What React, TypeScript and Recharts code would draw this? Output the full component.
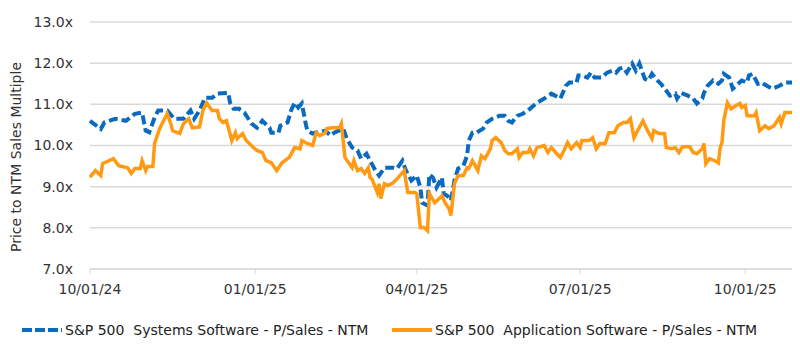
import React from 'react';
import { LineChart, Line, XAxis, YAxis, CartesianGrid } from 'recharts';

const systemsDates = [
  '2024-10-01', '2024-10-07', '2024-10-09', '2024-10-15', '2024-10-21', '2024-10-26', '2024-10-30', '2024-11-01',
  '2024-11-03', '2024-11-06', '2024-11-08', '2024-11-13', '2024-11-17', '2024-11-22', '2024-11-26', '2024-11-28',
  '2024-12-01', '2024-12-04', '2024-12-08', '2024-12-11', '2024-12-17', '2024-12-18', '2024-12-20', '2024-12-23',
  '2024-12-26', '2024-12-30', '2025-01-02', '2025-01-05', '2025-01-09', '2025-01-10', '2025-01-14', '2025-01-15',
  '2025-01-19', '2025-01-21', '2025-01-23', '2025-01-25', '2025-01-27', '2025-01-29', '2025-01-30', '2025-02-02',
  '2025-02-06', '2025-02-09', '2025-02-12', '2025-02-14', '2025-02-19', '2025-02-21', '2025-02-24', '2025-02-27',
  '2025-03-01', '2025-03-04', '2025-03-06', '2025-03-09', '2025-03-11', '2025-03-14', '2025-03-19', '2025-03-21',
  '2025-03-24', '2025-03-26', '2025-03-29', '2025-04-01', '2025-04-03', '2025-04-04', '2025-04-07', '2025-04-08',
  '2025-04-10', '2025-04-12', '2025-04-15', '2025-04-16', '2025-04-18', '2025-04-20', '2025-04-22', '2025-04-24',
  '2025-04-27', '2025-04-29', '2025-04-30', '2025-05-02', '2025-05-04', '2025-05-08', '2025-05-10', '2025-05-13',
  '2025-05-17', '2025-05-20', '2025-05-22', '2025-05-24', '2025-05-27', '2025-05-30', '2025-06-03', '2025-06-07',
  '2025-06-11', '2025-06-15', '2025-06-20', '2025-06-23', '2025-06-25', '2025-06-29', '2025-06-30', '2025-07-02',
  '2025-07-05', '2025-07-07', '2025-07-09', '2025-07-13', '2025-07-16', '2025-07-19', '2025-07-21', '2025-07-23',
  '2025-07-25', '2025-07-27', '2025-07-30', '2025-08-01', '2025-08-03', '2025-08-06', '2025-08-08', '2025-08-10',
  '2025-08-13', '2025-08-15', '2025-08-18', '2025-08-20', '2025-08-23', '2025-08-24', '2025-08-26', '2025-08-30',
  '2025-09-02', '2025-09-04', '2025-09-07', '2025-09-08', '2025-09-10', '2025-09-13', '2025-09-16', '2025-09-18',
  '2025-09-19', '2025-09-22', '2025-09-24', '2025-09-27', '2025-09-29', '2025-10-02', '2025-10-03', '2025-10-05',
  '2025-10-08', '2025-10-10', '2025-10-13', '2025-10-16', '2025-10-20', '2025-10-23', '2025-10-27',
];
const systemsValues = [
  10.6, 10.4, 10.56, 10.65, 10.6, 10.77, 10.8, 10.36,
  10.32, 10.68, 10.85, 10.85, 10.65, 10.65, 10.85, 10.65,
  10.85, 11.16, 11.16, 11.26, 11.28, 11.04, 10.89, 10.89,
  10.8, 10.53, 10.43, 10.6, 10.43, 10.31, 10.31, 10.48,
  10.56, 10.85, 11.04, 10.92, 11.02, 10.56, 10.36, 10.29,
  10.33, 10.36, 10.24, 10.31, 10.41, 10.17, 9.95, 9.88,
  9.68, 9.8, 9.63, 9.39, 9.27, 9.46, 9.46, 9.44,
  9.63, 9.39, 9.15, 9.27, 8.98, 8.61, 8.54, 9.3,
  9.22, 8.98, 9.22, 8.83, 8.78, 8.66, 9.15, 9.44,
  9.51, 9.75, 10.12, 10.31, 10.31, 10.41, 10.56, 10.65,
  10.72, 10.72, 10.6, 10.56, 10.72, 10.77, 10.89, 11.04,
  11.14, 11.26, 11.14, 11.45, 11.53, 11.53, 11.7, 11.7,
  11.65, 11.77, 11.65, 11.65, 11.77, 11.82, 11.77, 11.87,
  11.89, 11.77, 11.99, 11.82, 11.99, 11.62, 11.58, 11.74,
  11.58, 11.5, 11.33, 11.21, 11.26, 11.14, 11.28, 11.21,
  11.14, 11.02, 11.14, 11.28, 11.45, 11.58, 11.5, 11.58,
  11.74, 11.65, 11.38, 11.5, 11.58, 11.53, 11.7, 11.74,
  11.5, 11.53, 11.45, 11.38, 11.45, 11.53, 11.53,
];

const appDates = [
  '2024-10-01', '2024-10-04', '2024-10-07', '2024-10-08', '2024-10-14', '2024-10-17', '2024-10-22', '2024-10-24',
  '2024-10-26', '2024-10-29', '2024-10-30', '2024-11-01', '2024-11-02', '2024-11-05', '2024-11-06', '2024-11-09',
  '2024-11-13', '2024-11-15', '2024-11-16', '2024-11-20', '2024-11-22', '2024-11-25', '2024-11-27', '2024-12-01',
  '2024-12-03', '2024-12-05', '2024-12-08', '2024-12-11', '2024-12-12', '2024-12-14', '2024-12-16', '2024-12-19',
  '2024-12-21', '2024-12-22', '2024-12-25', '2024-12-27', '2024-12-31', '2025-01-02', '2025-01-05', '2025-01-07',
  '2025-01-10', '2025-01-13', '2025-01-16', '2025-01-19', '2025-01-20', '2025-01-23', '2025-01-26', '2025-01-27',
  '2025-01-30', '2025-02-02', '2025-02-04', '2025-02-06', '2025-02-09', '2025-02-10', '2025-02-13', '2025-02-17',
  '2025-02-18', '2025-02-20', '2025-02-24', '2025-02-25', '2025-02-27', '2025-03-01', '2025-03-03', '2025-03-05',
  '2025-03-06', '2025-03-07', '2025-03-10', '2025-03-11', '2025-03-12', '2025-03-14', '2025-03-16', '2025-03-19',
  '2025-03-21', '2025-03-25', '2025-03-27', '2025-03-31', '2025-04-01', '2025-04-03', '2025-04-05', '2025-04-07',
  '2025-04-08', '2025-04-11', '2025-04-14', '2025-04-15', '2025-04-17', '2025-04-19', '2025-04-20', '2025-04-22',
  '2025-04-24', '2025-04-27', '2025-04-29', '2025-04-30', '2025-05-02', '2025-05-05', '2025-05-07', '2025-05-09',
  '2025-05-12', '2025-05-13', '2025-05-15', '2025-05-18', '2025-05-20', '2025-05-22', '2025-05-24', '2025-05-27',
  '2025-05-28', '2025-05-30', '2025-06-02', '2025-06-03', '2025-06-05', '2025-06-07', '2025-06-11', '2025-06-13',
  '2025-06-15', '2025-06-18', '2025-06-20', '2025-06-22', '2025-06-24', '2025-06-26', '2025-06-29', '2025-07-01',
  '2025-07-02', '2025-07-06', '2025-07-08', '2025-07-10', '2025-07-12', '2025-07-15', '2025-07-17', '2025-07-20',
  '2025-07-22', '2025-07-25', '2025-07-27', '2025-07-29', '2025-07-31', '2025-08-02', '2025-08-05', '2025-08-07',
  '2025-08-10', '2025-08-11', '2025-08-14', '2025-08-17', '2025-08-18', '2025-08-21', '2025-08-23', '2025-08-25',
  '2025-08-27', '2025-08-31', '2025-09-02', '2025-09-04', '2025-09-07', '2025-09-08', '2025-09-09', '2025-09-11',
  '2025-09-14', '2025-09-16', '2025-09-17', '2025-09-18', '2025-09-19', '2025-09-21', '2025-09-23', '2025-09-26',
  '2025-09-28', '2025-09-29', '2025-10-01', '2025-10-02', '2025-10-06', '2025-10-07', '2025-10-09', '2025-10-12',
  '2025-10-14', '2025-10-17', '2025-10-20', '2025-10-21', '2025-10-23', '2025-10-27',
];
const appValues = [
  9.23, 9.39, 9.27, 9.56, 9.68, 9.51, 9.46, 9.32,
  9.44, 9.44, 9.63, 9.39, 9.49, 9.49, 10.05, 10.43,
  10.77, 10.53, 10.36, 10.29, 10.53, 10.65, 10.43, 10.45,
  10.87, 11.03, 10.85, 10.85, 10.65, 10.56, 10.6, 10.12,
  10.31, 10.17, 10.29, 10.12, 9.95, 9.88, 9.83, 9.63,
  9.58, 9.39, 9.58, 9.68, 9.71, 9.95, 9.92, 10.12,
  10.05, 10.0, 10.31, 10.24, 10.31, 10.41, 10.43, 10.43,
  10.53, 9.71, 9.46, 9.63, 9.39, 9.44, 9.32, 9.46,
  9.22, 9.19, 8.86, 9.07, 8.71, 9.07, 9.03, 9.1,
  9.19, 9.39, 8.86, 8.86, 8.83, 8.01, 8.01, 7.93,
  8.83, 8.61, 8.73, 8.78, 8.59, 8.47, 8.3, 9.07,
  9.27, 9.27, 9.46, 9.44, 9.63, 9.39, 9.75, 9.68,
  9.92, 10.12, 10.19, 10.07, 9.88, 9.8, 9.8, 9.92,
  9.71, 9.83, 9.83, 9.92, 9.75, 9.95, 10.0, 9.83,
  9.95, 9.8, 9.71, 9.88, 10.07, 9.92, 10.07, 9.95,
  10.12, 10.12, 10.19, 9.92, 10.05, 10.05, 10.31, 10.31,
  10.48, 10.56, 10.56, 10.65, 10.19, 10.36, 10.6, 10.41,
  10.17, 10.36, 10.29, 10.29, 9.95, 9.92, 9.95, 9.83,
  9.97, 9.97, 9.83, 9.8, 9.92, 10.05, 9.56, 9.68,
  9.63, 9.58, 9.95, 10.07, 10.6, 11.04, 10.89, 10.97,
  11.02, 10.92, 10.97, 10.72, 10.72, 10.8, 10.36, 10.48,
  10.41, 10.48, 10.68, 10.53, 10.8, 10.8,
];

const yTicks = [7, 8, 9, 10, 11, 12, 13];
const xTickDates = ['2024-10-01', '2025-01-01', '2025-04-01', '2025-07-01', '2025-10-01'];
const domainDates = ['2024-10-01', '2025-10-27'];

const SYSTEMS_NAME = 'S&P 500  Systems Software - P/Sales - NTM';
const APP_NAME = 'S&P 500  Application Software - P/Sales - NTM';
const BLUE = '#0A6AC0';
const ORANGE = '#FF9A12';
const FONT = '"DejaVu Sans", sans-serif';

const toTime = (d: string) => new Date(d + 'T00:00:00Z').getTime();

const systemsData = systemsDates.map((d, i) => ({ date: toTime(d), value: systemsValues[i] }));
const appData = appDates.map((d, i) => ({ date: toTime(d), value: appValues[i] }));

const fmtDate = (t: number) => {
  const d = new Date(t);
  const mm = String(d.getUTCMonth() + 1).padStart(2, '0');
  const dd = String(d.getUTCDate()).padStart(2, '0');
  const yy = String(d.getUTCFullYear()).slice(2);
  return `${mm}/${dd}/${yy}`;
};

function YLabel() {
  return (
    <text
      x={16}
      y={157}
      transform="rotate(-90, 16, 157)"
      textAnchor="middle"
      dominantBaseline="central"
      fontFamily={FONT}
      fontSize={14}
      fill="#333"
    >
      Price to NTM Sales Multiple
    </text>
  );
}

function LegendItem({ left, color, dashed, label }: { left: number; color: string; dashed?: boolean; label: string }) {
  return (
    <div style={{ position: 'absolute', left, top: 0, display: 'flex', alignItems: 'center', whiteSpace: 'pre' }}>
      <svg width={40} height={6} style={{ marginRight: 3 }}>
        <line x1={0} y1={3} x2={40} y2={3} stroke={color} strokeWidth={4} strokeDasharray={dashed ? '10 3' : undefined} />
      </svg>
      <span>{label}</span>
    </div>
  );
}

export default function App() {
  return (
    <div style={{ position: 'absolute', left: 0, top: 0, width: 800, height: 350, background: '#fff' }}>
      <LineChart width={800} height={350} margin={{ top: 22, right: 8, bottom: 51, left: 0 }}>
        <CartesianGrid vertical={false} stroke="#d9d9d9" strokeWidth={1.5} />
        <XAxis
          dataKey="date"
          type="number"
          scale="time"
          domain={domainDates.map(toTime)}
          ticks={xTickDates.map(toTime)}
          tickFormatter={fmtDate}
          allowDuplicatedCategory={false}
          height={30}
          stroke="#d9d9d9"
          tickSize={5}
          tickMargin={10}
          tick={{ fontFamily: FONT, fontSize: 14, fill: '#333' }}
        />
        <YAxis
          type="number"
          domain={[7, 13]}
          ticks={yTicks}
          tickFormatter={(v: number) => v.toFixed(1) + 'x'}
          width={90}
          axisLine={false}
          tickLine={false}
          tickMargin={11}
          tick={{ fontFamily: FONT, fontSize: 14, fill: '#333' }}
          label={<YLabel />}
        />
        <Line
          data={systemsData}
          dataKey="value"
          name={SYSTEMS_NAME}
          stroke={BLUE}
          strokeWidth={4}
          strokeDasharray="9 4"
          dot={false}
          isAnimationActive={false}
        />
        <Line
          data={appData}
          dataKey="value"
          name={APP_NAME}
          stroke={ORANGE}
          strokeWidth={3.5}
          dot={false}
          isAnimationActive={false}
        />
      </LineChart>
      <div
        style={{
          position: 'absolute',
          left: 0,
          top: 322,
          width: 800,
          height: 20,
          fontFamily: FONT,
          fontSize: 14,
          color: '#222',
        }}
      >
        <LegendItem left={22} color={BLUE} dashed label={SYSTEMS_NAME} />
        <LegendItem left={392} color={ORANGE} label={APP_NAME} />
      </div>
    </div>
  );
}
